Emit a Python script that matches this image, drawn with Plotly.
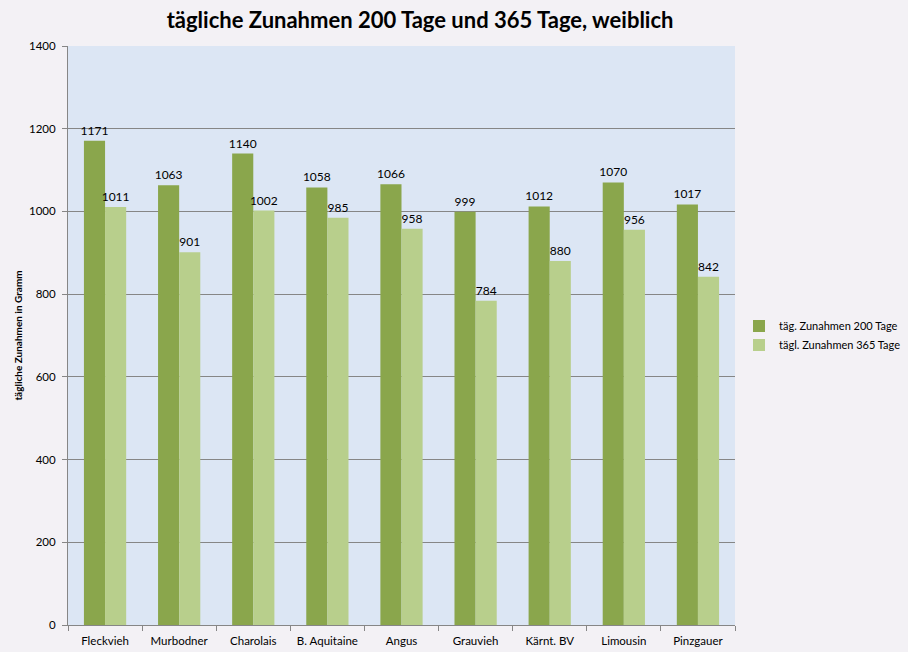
import plotly.graph_objs as go

rassen = ['Fleckvieh', 'Murbodner', 'Charolais', 'B. Aquitaine', 'Angus',
          'Grauvieh', 'Kärnt. BV', 'Limousin', 'Pinzgauer']
zunahmen_200 = [1171, 1063, 1140, 1058, 1066, 999, 1012, 1070, 1017]
zunahmen_365 = [1011, 901, 1002, 985, 958, 784, 880, 956, 842]

font_family = 'Lato, Open Sans, sans-serif'

trace_200 = go.Bar(
    x=rassen,
    y=zunahmen_200,
    name='täg. Zunahmen 200 Tage',
    marker=dict(color='#8aa64c', line=dict(width=0)),
    text=zunahmen_200,
    textposition='outside',
    cliponaxis=False,
    textfont=dict(size=12, color='black', family=font_family)
)

trace_365 = go.Bar(
    x=rassen,
    y=zunahmen_365,
    name='tägl. Zunahmen 365 Tage',
    marker=dict(color='#b8cf8c', line=dict(width=0)),
    text=zunahmen_365,
    textposition='outside',
    cliponaxis=False,
    textfont=dict(size=12, color='black', family=font_family)
)

layout = go.Layout(
    width=908,
    height=652,
    barmode='group',
    bargap=0.43,
    bargroupgap=0,
    uniformtext=dict(minsize=12, mode='show'),
    paper_bgcolor='#f3f1f5',
    plot_bgcolor='#dce6f4',
    font=dict(family=font_family, size=11, color='black'),
    title=dict(text='<b>tägliche Zunahmen 200 Tage und 365 Tage, weiblich</b>',
               x=0.4626, xanchor='center', y=0.969, yanchor='middle',
               font=dict(size=22, family=font_family)),
    margin=dict(l=68, r=173, t=46, b=27, autoexpand=False),
    xaxis=dict(
        showgrid=False,
        showline=True,
        linecolor='#868686',
        linewidth=1,
        ticks='outside',
        tickson='boundaries',
        ticklen=5,
        tickcolor='#868686',
        tickfont=dict(size=11.5),
        ticklabelstandoff=5,
        automargin=False
    ),
    yaxis=dict(
        range=[0, 1400],
        dtick=200,
        showgrid=True,
        gridcolor='#868686',
        gridwidth=1,
        showline=True,
        linecolor='#868686',
        ticks='outside',
        ticklen=5,
        tickcolor='#868686',
        zeroline=False,
        tickfont=dict(size=11.5),
        ticklabelstandoff=4,
        automargin=False,
        title=dict(text='<b>tägliche Zunahmen in Gramm</b>',
                   font=dict(size=10), standoff=4)
    ),
    legend=dict(
        x=1.006, y=0.5, xanchor='left', yanchor='middle',
        bgcolor='rgba(0,0,0,0)',
        font=dict(size=11),
        tracegroupgap=8,
        itemwidth=30
    )
)

fig = go.Figure(data=[trace_200, trace_365], layout=layout)
fig.write_html('out.html', config={'displayModeBar': False},
               post_script="document.body.style.margin='0';")
